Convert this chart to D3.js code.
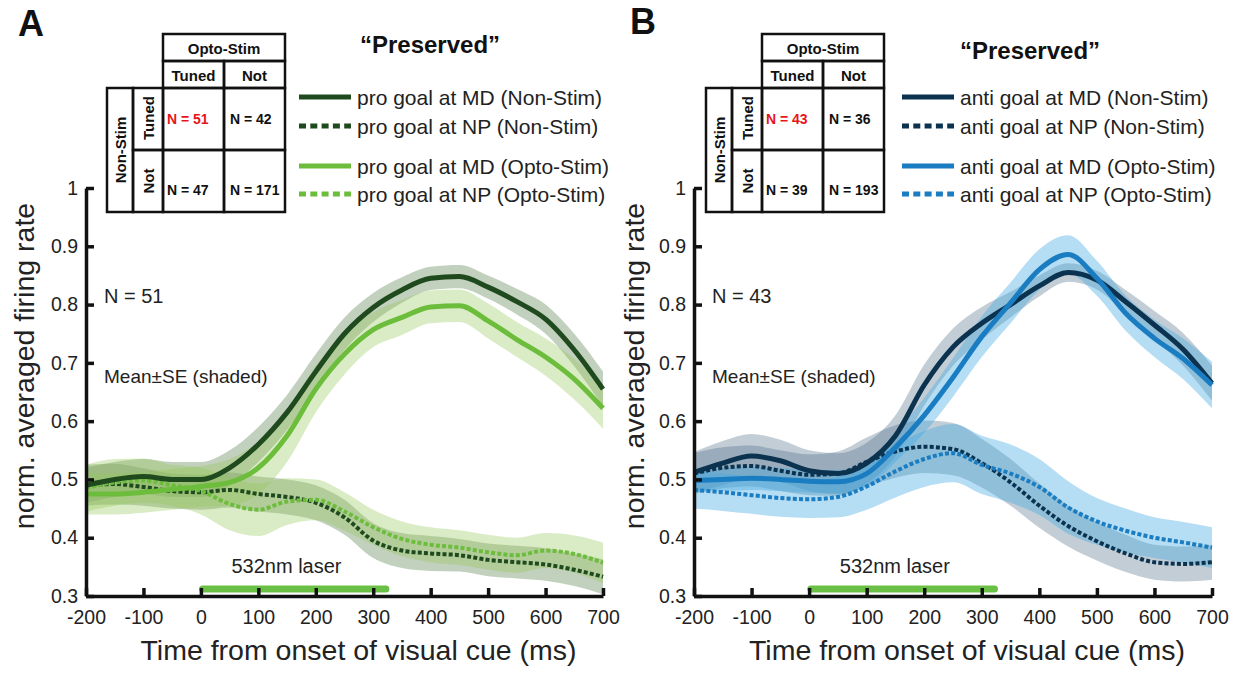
<!DOCTYPE html>
<html><head><meta charset="utf-8">
<script src="https://cdn.jsdelivr.net/npm/d3@7"></script>
<style>
body{margin:0;background:#fff;}
svg{display:block;font-family:"Liberation Sans",Arial,sans-serif;}
</style></head>
<body><svg id="c" width="1246" height="673"></svg>
<script>
// ---------- DATA ----------
const times = [-200,-150,-100,-50,0,50,100,150,200,250,300,350,400,450,500,550,600,650,700];
const xTicks = [-200,-100,0,100,200,300,400,500,600,700];
const yTicks = [0.3,0.4,0.5,0.6,0.7,0.8,0.9,1];
const laserRange = [3, 322];

// Panel A (pro goal)
const aMDNon   = [0.490,0.500,0.505,0.500,0.500,0.520,0.560,0.615,0.685,0.750,0.795,0.825,0.845,0.848,0.830,0.805,0.775,0.722,0.655];
const aMDNonSE = [0.030,0.030,0.030,0.030,0.030,0.030,0.030,0.030,0.030,0.028,0.025,0.022,0.020,0.020,0.020,0.022,0.025,0.028,0.030];
const aNPNon   = [0.490,0.492,0.487,0.480,0.478,0.482,0.475,0.470,0.460,0.435,0.395,0.378,0.373,0.370,0.362,0.358,0.354,0.345,0.333];
const aNPNonSE = [0.035,0.035,0.032,0.030,0.030,0.030,0.030,0.030,0.030,0.030,0.030,0.030,0.030,0.028,0.028,0.028,0.028,0.028,0.030];
const aMDOpt   = [0.475,0.475,0.478,0.483,0.488,0.495,0.520,0.575,0.655,0.715,0.757,0.778,0.796,0.798,0.772,0.740,0.710,0.672,0.622];
const aMDOptSE = [0.035,0.035,0.035,0.035,0.035,0.040,0.045,0.045,0.040,0.035,0.030,0.030,0.028,0.028,0.030,0.030,0.032,0.035,0.035];
const aNPOpt   = [0.485,0.495,0.498,0.490,0.480,0.458,0.448,0.462,0.465,0.445,0.418,0.398,0.388,0.383,0.375,0.370,0.378,0.372,0.357];
const aNPOptSE = [0.040,0.040,0.038,0.035,0.040,0.045,0.045,0.040,0.035,0.033,0.030,0.030,0.030,0.030,0.030,0.030,0.030,0.032,0.035];

// Panel B (anti goal)
const bMDNon   = [0.512,0.528,0.540,0.532,0.515,0.510,0.528,0.575,0.662,0.727,0.768,0.800,0.832,0.855,0.842,0.805,0.765,0.723,0.665];
const bMDNonSE = [0.035,0.038,0.038,0.036,0.035,0.035,0.035,0.035,0.035,0.032,0.028,0.022,0.018,0.016,0.016,0.020,0.024,0.028,0.030];
const bNPNon   = [0.510,0.520,0.523,0.515,0.508,0.510,0.530,0.548,0.556,0.552,0.528,0.495,0.455,0.420,0.394,0.373,0.358,0.355,0.358];
const bNPNonSE = [0.035,0.035,0.035,0.035,0.035,0.038,0.042,0.045,0.045,0.045,0.042,0.040,0.038,0.035,0.033,0.032,0.030,0.030,0.030];
const bMDOpt   = [0.498,0.500,0.502,0.500,0.497,0.496,0.510,0.555,0.610,0.675,0.745,0.803,0.860,0.886,0.845,0.785,0.742,0.707,0.662];
const bMDOptSE = [0.020,0.020,0.020,0.020,0.020,0.020,0.022,0.025,0.030,0.033,0.035,0.035,0.035,0.033,0.030,0.030,0.032,0.035,0.040];
const bNPOpt   = [0.482,0.478,0.473,0.468,0.466,0.470,0.488,0.514,0.535,0.545,0.525,0.510,0.487,0.452,0.428,0.412,0.400,0.392,0.383];
const bNPOptSE = [0.032,0.032,0.032,0.032,0.032,0.035,0.040,0.045,0.048,0.050,0.050,0.050,0.048,0.045,0.040,0.038,0.035,0.035,0.035];

// Tables
const tableHeader = ["Opto-Stim","Non-Stim"];
const tableCols = ["Tuned","Not"];
const aCounts = ["N = 51","N = 42","N = 47","N = 171"];
const bCounts = ["N = 43","N = 36","N = 39","N = 193"];

const aLegend = ["pro goal at MD (Non-Stim)","pro goal at NP (Non-Stim)","pro goal at MD (Opto-Stim)","pro goal at NP (Opto-Stim)"];
const bLegend = ["anti goal at MD (Non-Stim)","anti goal at NP (Non-Stim)","anti goal at MD (Opto-Stim)","anti goal at NP (Opto-Stim)"];

// ---------- DRAW ----------
const svg = d3.select("#c");
const FONT = '"Liberation Sans",Arial,sans-serif';
const yTop = 188, yBot = 596;

function panel(opt){
  const g = svg.append("g");
  const x = d3.scaleLinear().domain([-200,700]).range([opt.x0, opt.x1]);
  const y = d3.scaleLinear().domain([0.3,1]).range([yBot, yTop]);

  const series = opt.series;
  const area = d3.area().curve(d3.curveMonotoneX)
      .x((d,i)=>x(times[i])).y0(d=>y(d[0]-d[1])).y1(d=>y(d[0]+d[1]));
  const line = d3.line().curve(d3.curveMonotoneX).x((d,i)=>x(times[i])).y(d=>y(d));

  series.forEach(s=>{
    g.append("path").datum(s.mean.map((m,i)=>[m,s.se[i]]))
      .attr("d",area).attr("fill",s.band).attr("fill-opacity",s.bandOp).attr("stroke","none");
  });
  series.slice().sort((a,b)=>(a.dash?0:1)-(b.dash?0:1)).forEach(s=>{
    g.append("path").datum(s.mean).attr("d",line).attr("fill","none")
      .attr("stroke",s.color).attr("stroke-width",s.dash?4:5)
      .attr("stroke-dasharray",s.dash?"4,2.2":null);
  });

  // laser bar
  g.append("line").attr("x1",x(laserRange[0])).attr("x2",x(laserRange[1]))
    .attr("y1",y(0.312)).attr("y2",y(0.312))
    .attr("stroke","#6abf45").attr("stroke-width",7).attr("stroke-linecap","round");
  g.append("text").attr("x",x(149)).attr("y",573).attr("text-anchor","middle")
    .attr("font-size",20).attr("fill","#222").text("532nm laser");

  // axes
  const ax = g.append("g").attr("transform",`translate(0,${yBot})`)
    .call(d3.axisBottom(x).tickValues(xTicks).tickSizeInner(-8).tickSizeOuter(0).tickPadding(14).tickFormat(d=>String(d)));
  const ay = g.append("g").attr("transform",`translate(${opt.x0},0)`)
    .call(d3.axisLeft(y).tickValues(yTicks).tickSizeInner(-8).tickSizeOuter(0).tickPadding(8).tickFormat(d=>d===1?"1":d.toFixed(1)));
  [ax,ay].forEach(a=>{
    a.select(".domain").attr("stroke","#111").attr("stroke-width",3.5);
    a.selectAll(".tick line").attr("stroke","#111").attr("stroke-width",3.5);
    a.selectAll(".tick text").attr("font-family",FONT).attr("font-size",19.5).attr("fill","#222");
  });

  // axis labels
  g.append("text").attr("x",(opt.x0+opt.x1)/2+14).attr("y",660).attr("text-anchor","middle")
    .attr("font-size",28.5).attr("fill","#222").text("Time from onset of visual cue (ms)");
  g.append("text").attr("transform",`translate(${opt.ylabX},366) rotate(-90)`).attr("text-anchor","middle")
    .attr("font-size",28.5).attr("fill","#222").text("norm. averaged firing rate");

  // annotations
  g.append("text").attr("x",opt.x0+18).attr("y",303).attr("font-size",20).attr("fill","#222").text(opt.nText);
  g.append("text").attr("x",opt.x0+18).attr("y",383).attr("font-size",19).attr("fill","#222").text("Mean\u00B1SE (shaded)");

  // panel letter & title
  svg.append("text").attr("x",opt.letterX).attr("y",opt.letterY).attr("font-size",36).attr("font-weight","bold").attr("fill","#111").text(opt.letter);
  svg.append("text").attr("x",opt.titleX).attr("y",opt.titleY).attr("text-anchor","middle").attr("font-size",24).attr("font-weight","bold").attr("fill","#111").text("\u201CPreserved\u201D");

  // legend
  opt.legend.forEach((t,i)=>{
    const s = opt.legendSeries[i];
    const ly = opt.legendY[i];
    svg.append("line").attr("x1",opt.legX0).attr("x2",opt.legX0+52).attr("y1",ly).attr("y2",ly)
      .attr("stroke",s.color).attr("stroke-width",5).attr("stroke-dasharray",s.dash?"7,4.3":null);
    svg.append("text").attr("x",opt.legX0+58).attr("y",ly+8).attr("font-size",21).attr("fill","#222").text(t);
  });

  // table
  const T = svg.append("g").attr("transform",`translate(${opt.tabDx},0)`);
  const L = 2.5;
  const rect=(x0,y0,x1,y1)=>T.append("rect").attr("x",x0).attr("y",y0).attr("width",x1-x0).attr("height",y1-y0)
      .attr("fill","none").attr("stroke","#111").attr("stroke-width",L);
  rect(163,34,285,61);
  rect(163,61,224,88); rect(224,61,285,88);
  rect(107,88,133,212);
  rect(133,88,163,150); rect(133,150,163,212);
  rect(163,88,224,150); rect(224,88,285,150);
  rect(163,150,224,212); rect(224,150,285,212);
  const bt=(x0,y0,t,rot,col,anchor,fs)=>{
    const e=T.append("text").attr("font-weight","bold").attr("font-size",fs||15).attr("fill",col||"#111")
      .attr("text-anchor",anchor||"middle").attr("dominant-baseline","central").text(t);
    if(rot) e.attr("transform",`translate(${x0},${y0}) rotate(-90)`); else e.attr("x",x0).attr("y",y0);
  };
  bt(224,48,tableHeader[0]);
  bt(193.5,75,tableCols[0]); bt(254.5,75,tableCols[1]);
  bt(120,150,tableHeader[1],true);
  bt(148,118,tableCols[0],true); bt(148,181,tableCols[1],true);
  bt(167,119,opt.counts[0],false,"#e8141b","start",14);
  bt(230,119,opt.counts[1],false,"#111","start",14);
  bt(167,190,opt.counts[2],false,"#111","start",14);
  bt(230,190,opt.counts[3],false,"#111","start",14);
}

const cA = {dark:"#1f4a1e", light:"#6cbd3c", darkBand:"#78966e", lightBand:"#96c85a"};
const cB = {dark:"#0b3350", light:"#1a7cc1", darkBand:"#50708a", lightBand:"#46aae1"};

const sA = [
  {mean:aMDNon,se:aMDNonSE,color:cA.dark,band:cA.darkBand,bandOp:0.45,dash:false},
  {mean:aNPNon,se:aNPNonSE,color:cA.dark,band:cA.darkBand,bandOp:0.45,dash:true},
  {mean:aMDOpt,se:aMDOptSE,color:cA.light,band:cA.lightBand,bandOp:0.35,dash:false},
  {mean:aNPOpt,se:aNPOptSE,color:cA.light,band:cA.lightBand,bandOp:0.35,dash:true}
];
const sB = [
  {mean:bMDNon,se:bMDNonSE,color:cB.dark,band:cB.darkBand,bandOp:0.35,dash:false},
  {mean:bNPNon,se:bNPNonSE,color:cB.dark,band:cB.darkBand,bandOp:0.35,dash:true},
  {mean:bMDOpt,se:bMDOptSE,color:cB.light,band:cB.lightBand,bandOp:0.4,dash:false},
  {mean:bNPOpt,se:bNPOptSE,color:cB.light,band:cB.lightBand,bandOp:0.4,dash:true}
];

panel({x0:86,x1:603,series:sA,ylabX:34,nText:"N = 51",letter:"A",letterX:18,letterY:36,
  titleX:430,titleY:53,legend:aLegend,legendSeries:sA,legendY:[97,126,166,194],legX0:299,tabDx:0,counts:aCounts});
panel({x0:694,x1:1212,series:sB,ylabX:644,nText:"N = 43",letter:"B",letterX:630,letterY:34,
  titleX:1030,titleY:59,legend:bLegend,legendSeries:sB,legendY:[97,126,166,194],legX0:902,tabDx:599,counts:bCounts});
</script></body></html>
